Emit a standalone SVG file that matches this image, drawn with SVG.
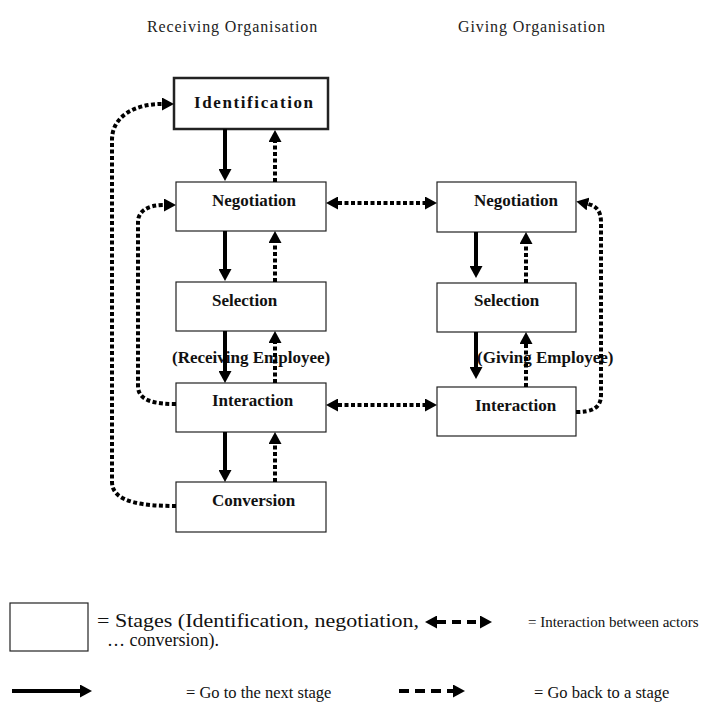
<svg xmlns="http://www.w3.org/2000/svg" width="705" height="708" viewBox="0 0 705 708">
<style>
.box{fill:#fff;stroke:#222;stroke-width:1.2}
.lbl{font-family:"Liberation Serif",serif;font-weight:bold;font-size:17px;fill:#111}
.hdr{font-family:"Liberation Serif",serif;font-size:16px;letter-spacing:0.9px;fill:#222}
.leg{font-family:"Liberation Serif",serif;font-size:16.5px;fill:#111}
.solid{stroke:#000;stroke-width:4;fill:none;marker-end:url(#ah)}
.dot{stroke:#000;stroke-width:4;fill:none;stroke-dasharray:4 2.5;marker-end:url(#ah)}
.dot2{stroke:#000;stroke-width:4;fill:none;stroke-dasharray:4 2.5;marker-start:url(#ah);marker-end:url(#ah)}
</style>
<defs>
<marker id="ah" viewBox="0 0 12 13" refX="0" refY="6.5" markerWidth="12" markerHeight="13" markerUnits="userSpaceOnUse" orient="auto-start-reverse"><path d="M0,0 L12,6.5 L0,13 z" fill="#000"/></marker>
</defs>
<rect width="705" height="708" fill="#fff"/>
<g id="headers">
<text class="hdr" x="147" y="32">Receiving Organisation</text>
<text class="hdr" x="458" y="32">Giving Organisation</text>
</g>
<g id="n-identification"><rect class="box" x="174" y="78" width="154" height="51" style="stroke-width:2.5"/><text class="lbl" x="194" y="108" style="letter-spacing:1.6px">Identification</text></g>
<g id="n-negotiation-r"><rect class="box" x="176" y="182" width="150" height="49"/><text class="lbl" x="212" y="206">Negotiation</text></g>
<g id="n-selection-r"><rect class="box" x="176" y="282" width="150" height="49"/><text class="lbl" x="212" y="306">Selection</text></g>
<g id="n-interaction-r"><rect class="box" x="176" y="383" width="150" height="49"/><text class="lbl" x="212" y="406">Interaction</text></g>
<g id="n-conversion-r"><rect class="box" x="176" y="482" width="150" height="50"/><text class="lbl" x="212" y="506">Conversion</text></g>
<g id="n-negotiation-g"><rect class="box" x="437" y="182" width="139" height="50"/><text class="lbl" x="474" y="206">Negotiation</text></g>
<g id="n-selection-g"><rect class="box" x="437" y="283" width="139" height="49"/><text class="lbl" x="474" y="306">Selection</text></g>
<g id="n-interaction-g"><rect class="box" x="437" y="387" width="139" height="49"/><text class="lbl" x="475" y="411">Interaction</text></g>
<g id="employee-labels">
<text class="lbl" x="172" y="363">(Receiving Employee)</text>
<text class="lbl" x="477" y="363">(Giving Employee)</text>
</g>
<g id="connectors">
<line class="solid" x1="225" y1="129" x2="225" y2="169"/>
<line class="solid" x1="225" y1="231" x2="225" y2="269"/>
<line class="solid" x1="225" y1="331" x2="225" y2="371"/>
<line class="solid" x1="225" y1="432" x2="225" y2="470"/>
<line class="dot" x1="275" y1="182" x2="275" y2="142"/>
<line class="dot" x1="275" y1="282" x2="275" y2="243"/>
<line class="dot" x1="275" y1="383" x2="275" y2="343"/>
<line class="dot" x1="275" y1="482" x2="275" y2="444"/>
<line class="solid" x1="476" y1="232" x2="476" y2="266"/>
<line class="solid" x1="476" y1="332" x2="476" y2="367"/>
<line class="dot" x1="526" y1="283" x2="526" y2="244"/>
<line class="dot" x1="526" y1="387" x2="526" y2="344"/>
<line class="dot2" x1="338" y1="203" x2="425" y2="203"/>
<line class="dot2" x1="338" y1="405" x2="425" y2="405"/>
<path class="dot" d="M176,506 C145,506 112,503 112,482 L112,140 C112,116 135,104 162,104"/>
<path class="dot" d="M176,404 C155,404 138,401 138,386 L138,222 C138,211 148,205 164,205"/>
<path class="dot" d="M576,412 C592,412 601,408 601,395 L601,222 C601,212 597,206 588,204"/>
</g>
<g id="legend">
<rect class="box" x="10" y="603" width="78" height="48"/>
<text class="leg" x="97" y="627" style="font-size:18.5px" textLength="322" lengthAdjust="spacingAndGlyphs">= Stages (Identification, negotiation,</text>
<text class="leg" x="107" y="646" style="font-size:18px">… conversion).</text>
<line x1="437" y1="622" x2="480" y2="622" stroke="#000" stroke-width="4" stroke-dasharray="9 6" marker-start="url(#ah)" marker-end="url(#ah)"/>
<text class="leg" x="528" y="627" style="font-size:15px">= Interaction between actors</text>
<line class="solid" x1="12" y1="691" x2="80" y2="691"/>
<text class="leg" x="186" y="698">= Go to the next stage</text>
<line x1="399" y1="691" x2="453" y2="691" stroke="#000" stroke-width="4" stroke-dasharray="10 6" marker-end="url(#ah)"/>
<text class="leg" x="534" y="698">= Go back to a stage</text>
</g>
</svg>
